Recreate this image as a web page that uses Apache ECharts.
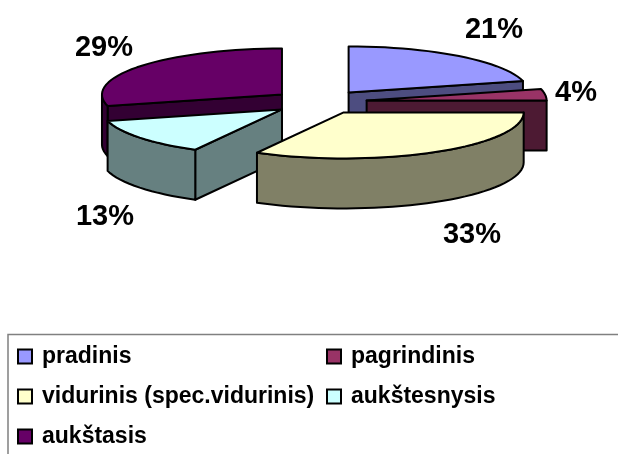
<!DOCTYPE html>
<html>
<head>
<meta charset="utf-8">
<style>html,body{margin:0;padding:0;background:#fff}#c{width:618px;height:454px}</style>
<script src="https://cdn.jsdelivr.net/npm/echarts@6/dist/echarts.min.js"></script>
</head>
<body>
<div id="c"></div>
<script>
const categories = ['pradinis', 'pagrindinis', 'vidurinis (spec.vidurinis)', 'aukštesnysis', 'aukštasis'];
const legendNames = ['pradinis', 'pagrindinis', 'vidurinis (spec.vidurinis)', 'aukštesnysis', 'aukštasis'];
const shares = [21, 4, 33, 13, 29];

const topColors = ['#9999FF', '#993366', '#FFFFCC', '#CCFFFF', '#660066'];
const sideColors = ['#4D4D80', '#4D1A33', '#808066', '#668080', '#330033'];
const paintOrder = [4, 0, 1, 3, 2];
const labelAnchors = [[494, 30], [576, 93], [472, 235], [105, 217], [104, 48]];
const legendAnchors = [[17, 345], [326, 345], [17, 385], [326, 385], [17, 425]];

const PIE = { cx: 319.5, cy: 102, rx: 180, ry: 46, depth: 50, explode: 47.5 };
const FONT = '"Liberation Sans", Arial, sans-serif';

const total = shares.reduce((a, b) => a + b, 0);
const rad = d => d * Math.PI / 180;

function wedgeFrom(i) {
  let before = 0;
  for (let k = 0; k < i; k++) before += shares[k];
  return [before / total * 360, (before + shares[i]) / total * 360];
}

function rim(ax, ay, a, b, dy) {
  const pts = [];
  const n = Math.max(2, Math.ceil((b - a) / 3));
  for (let k = 0; k <= n; k++) {
    const t = rad(a + (b - a) * k / n);
    pts.push([ax + PIE.rx * Math.sin(t), ay - PIE.ry * Math.cos(t) + dy]);
  }
  return pts;
}

function makeRender(i) {
  return function (params, api) {
    const a = api.value(0), b = api.value(1), value = api.value(2);
    const mid = rad((a + b) / 2);
    const ax = PIE.cx + PIE.explode * Math.sin(mid);
    const ay = PIE.cy - PIE.explode * PIE.ry / PIE.rx * Math.cos(mid);
    const line = { stroke: '#000', lineWidth: 2, lineJoin: 'round' };
    const side = Object.assign({ fill: sideColors[i] }, line);
    const children = [];
    const face = ang => {
      const e = rim(ax, ay, ang, ang, 0)[0];
      children.push({ type: 'polygon', silent: true, shape: { points: [[ax, ay], e, [e[0], e[1] + PIE.depth], [ax, ay + PIE.depth]] }, style: side });
    };
    if (Math.sin(rad(a)) < -1e-6) face(a);
    if (Math.sin(rad(b)) > 1e-6) face(b);
    const f0 = Math.max(a, 90), f1 = Math.min(b, 270);
    if (f1 > f0) {
      const topEdge = rim(ax, ay, f0, f1, 0);
      const botEdge = rim(ax, ay, f0, f1, PIE.depth).reverse();
      children.push({ type: 'polygon', silent: true, shape: { points: topEdge.concat(botEdge) }, style: side });
    }
    children.push({
      type: 'polygon', silent: true,
      shape: { points: [[ax, ay]].concat(rim(ax, ay, a, b, 0)) },
      style: Object.assign({ fill: topColors[i] }, line)
    });
    children.push({
      type: 'text', silent: true, z2: 100,
      style: {
        x: labelAnchors[i][0], y: labelAnchors[i][1], text: value + '%',
        fill: '#000', font: 'bold 29px ' + FONT, textAlign: 'center', textVerticalAlign: 'middle'
      }
    });
    return { type: 'group', children };
  };
}

const chart = echarts.init(document.getElementById('c'), null, { renderer: 'canvas' });
chart.setOption({
  animation: false,
  backgroundColor: '#fff',
  tooltip: { show: false },
  graphic: [{
    type: 'polyline', silent: true, z: 0,
    shape: { points: [[618, 334.5], [8, 334.5], [8, 454]] },
    style: { stroke: '#808080', lineWidth: 1.5, fill: null }
  }],
  legend: legendNames.map((name, i) => ({
    left: legendAnchors[i][0], top: legendAnchors[i][1],
    orient: 'horizontal', padding: 0, itemGap: 0,
    itemWidth: 14, itemHeight: 14, selectedMode: false,
    data: [{ name, icon: 'rect' }],
    itemStyle: { borderColor: '#000', borderWidth: 2 },
    textStyle: { fontFamily: FONT, fontWeight: 'bold', fontSize: 23, color: '#000', padding: [0, 0, 0, 5] }
  })),
  series: paintOrder.map(i => ({
    type: 'custom',
    name: categories[i],
    coordinateSystem: 'none',
    renderItem: makeRender(i),
    itemStyle: { color: topColors[i] },
    data: [{ name: categories[i], value: [...wedgeFrom(i), shares[i]] }],
    silent: true
  }))
});
</script>
</body>
</html>
